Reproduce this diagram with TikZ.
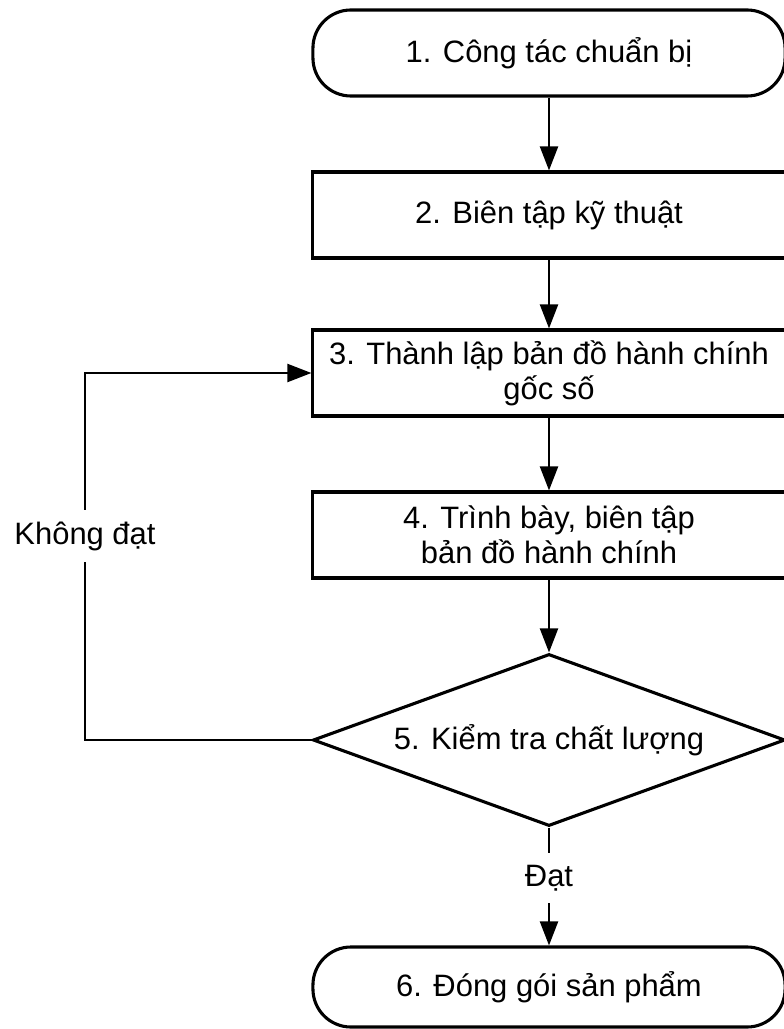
\documentclass[tikz,border=0pt]{standalone}
\usepackage{fontspec}
\setmainfont{Liberation Sans}
\usetikzlibrary{shapes.geometric,arrows.meta}

\begin{document}
\begin{tikzpicture}[x=0.025cm, y=-0.025cm,
    every node/.style={font=\fontsize{22}{25}\selectfont},
    box/.style={draw, line width=2.2pt, minimum width=11.8cm,
      minimum height=2.15cm, align=center, inner sep=0pt},
    term/.style={box, rounded corners=0.95cm},
    test/.style={draw, diamond, aspect=2.74, line width=2.2pt,
      minimum width=11.8cm, minimum height=4.3cm, inner sep=0pt},
    lbl/.style={fill=white, inner xsep=2pt, inner ysep=0.3cm},
    arr/.style={line width=1.5pt, -{Triangle[length=0.6cm,width=0.45cm]}}]
  \useasboundingbox (0,0) rectangle (783,1029);

  \node[term] (P1) at (549,53) {1. Công tác chuẩn bị};
  \node[box] (P2) at (549,215) {2. Biên tập kỹ thuật};
  \node[box] (P3) at (549,373) {3. Thành lập bản đồ hành chính\\gốc số};
  \node[box] (P4) at (549,535) {4. Trình bày, biên tập\\bản đồ hành chính};
  \node[test] (P5) at (549,740) {5. Kiểm tra chất lượng};
  \node[term, minimum height=2cm] (P6) at (549,987) {6. Đóng gói sản phẩm};
  \coordinate (L) at (85,373);

  \draw[arr] (P1) -- (P2);
  \draw[arr] (P2) -- (P3);
  \draw[arr] (P3) -- (P4);
  \draw[arr] (P4) -- (P5);
  \draw[arr] (P5.south) -- (P6.north);
  \draw[arr] (P5.west) -| (L) -- (P3.west);

  \node[lbl] (fail) at (85,536) {Không đạt};
  \node[lbl] (pass) at (549,878) {Đạt};
\end{tikzpicture}
\end{document}
